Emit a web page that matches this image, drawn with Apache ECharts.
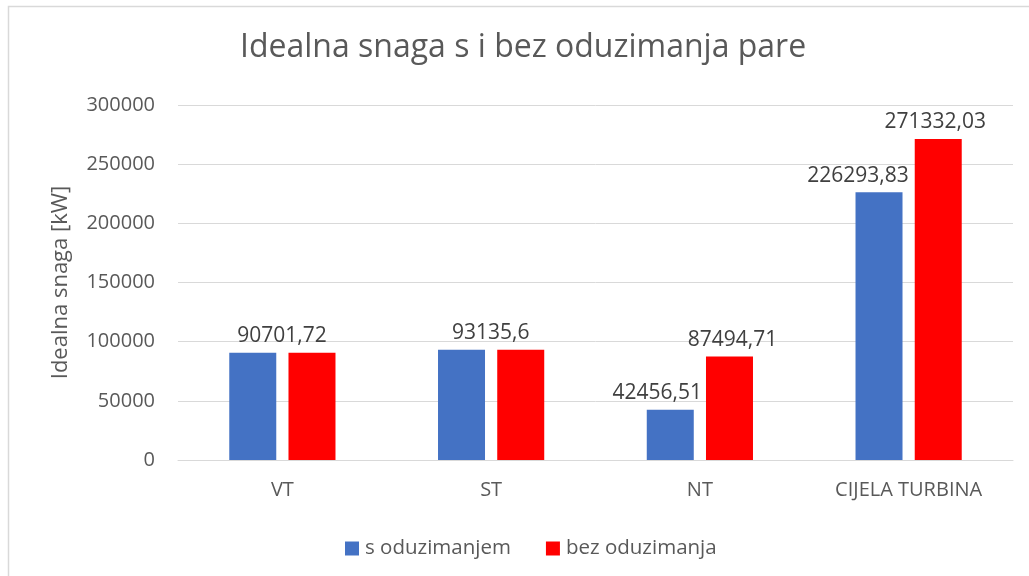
<!DOCTYPE html>
<html>
<head>
<meta charset="utf-8">
<script src="https://cdn.jsdelivr.net/npm/echarts@6/dist/echarts.min.js"></script>
<style>html,body{margin:0;padding:0;background:#fff;}#c{width:1029px;height:576px;}</style>
</head>
<body>
<div id="c"></div>
<script>
const categories = ['VT', 'ST', 'NT', 'CIJELA TURBINA'];
const sOduzimanjem = [90701.72, 93135.6, 42456.51, 226293.83];
const bezOduzimanja = [90701.72, 93135.6, 87494.71, 271332.03];
const yTicks = [0, 50000, 100000, 150000, 200000, 250000, 300000];

const fmt = v => String(v).replace('.', ',');
const txt = '#595959';
const font = 'Open Sans';

// label layout: when both values are equal show one label centered over the pair
const blueOffsets = [[0,0],[0,0],[-13,0],[-21,0]];
const redOffsets = [[-30,0],[-30,0],[3,0],[-3,0]];

const blueData = sOduzimanjem.map((v,i) => ({
  value: v,
  label: { show: v !== bezOduzimanja[i], offset: blueOffsets[i] }
}));
const redData = bezOduzimanja.map((v,i) => ({
  value: v,
  label: { show: true, offset: redOffsets[i] }
}));

const chart = echarts.init(document.getElementById('c'), null, {renderer: 'canvas'});
const labelCfg = {
  show: true, position: 'top', distance: 6,
  color: '#404040', fontFamily: font, fontSize: 21,
  formatter: p => fmt(p.value)
};
chart.setOption({
  backgroundColor: '#fff',
  animation: false,
  title: {
    text: 'Idealna snaga s i bez oduzimanja pare',
    left: 235, top: 27,
    textStyle: { color: txt, fontFamily: font, fontSize: 32, fontWeight: 'normal' }
  },
  graphic: [{
    type: 'polyline',
    shape: { points: [[8.5, 600], [8.5, 6.5], [1100, 6.5]] },
    style: { stroke: '#d9d9d9', lineWidth: 1.5, fill: null },
    silent: true
  }],
  legend: {
    left: 340, top: 533,
    itemWidth: 14, itemHeight: 14, itemGap: 35,
    icon: 'rect',
    textStyle: { color: txt, fontFamily: font, fontSize: 20.5, padding: [0, 0, 0, 1] },
    data: ['s oduzimanjem', 'bez oduzimanja']
  },
  grid: { left: 178, right: 16, top: 105, bottom: 116, containLabel: false },
  xAxis: {
    type: 'category',
    data: categories,
    axisLine: { lineStyle: { color: '#d9d9d9', width: 1 } },
    axisTick: { show: false },
    axisLabel: { color: txt, fontFamily: font, fontSize: 20, margin: 20 }
  },
  yAxis: {
    type: 'value',
    min: yTicks[0], max: yTicks[yTicks.length - 1], interval: yTicks[1] - yTicks[0],
    name: 'Idealna snaga [kW]',
    nameLocation: 'middle', nameGap: 106,
    nameTextStyle: { color: txt, fontFamily: font, fontSize: 22 },
    axisLine: { show: false },
    axisTick: { show: false },
    splitLine: { lineStyle: { color: '#d9d9d9', width: 1 } },
    axisLabel: { color: txt, fontFamily: font, fontSize: 20, margin: 23, formatter: v => String(v) }
  },
  series: [
    { name: 's oduzimanjem', type: 'bar', data: blueData, barWidth: 47, barGap: '26%',
      itemStyle: { color: '#4472C4' }, label: labelCfg },
    { name: 'bez oduzimanja', type: 'bar', data: redData, barWidth: 47,
      itemStyle: { color: '#FF0000' }, label: labelCfg }
  ]
});
</script>
</body>
</html>
